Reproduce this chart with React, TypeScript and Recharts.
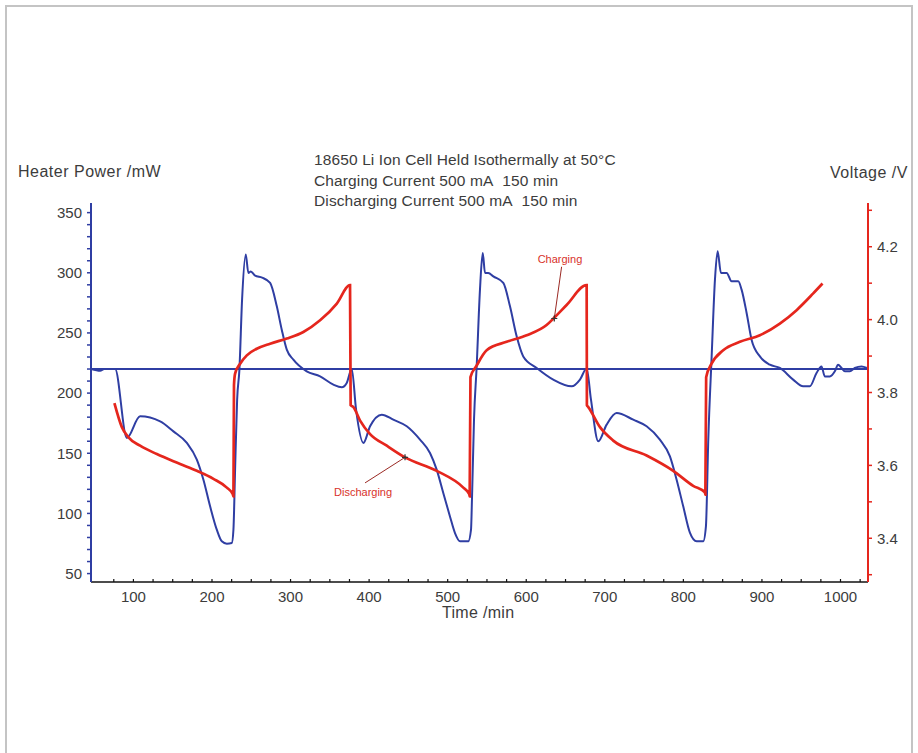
import { LineChart, Line, XAxis, YAxis, ReferenceLine, ReferenceDot } from 'recharts';

// heater power (blue, left axis)
const POWER_TIME = [
  46.2, 57.7, 62.7, 76.7, 91.6, 108.5, 134, 150.9, 168, 180.7, 189.1, 197.6, 206.1, 212.5, 218.9, 225.2,
  227.3, 229.4, 232, 234.9, 238.3, 243, 246.3, 249.4, 254.9, 263.8, 274, 282.5, 288.8, 295.2, 303.6,
  320.6, 337.6, 354.5, 365.2, 371.5, 377.9, 383.4, 392.7, 401.2, 416.1, 430.8, 447.9, 464.8, 477.5,
  486, 494.4, 502.9, 509.3, 515.7, 526.2, 529.7, 530.9, 533.5, 536.9, 541.1, 544.6, 547.5, 551.7,
  558.1, 570.8, 579.3, 587.8, 596.2, 613.3, 634.4, 657.8, 668.4, 676.9, 682.4, 691.7, 702.3, 715,
  736.2, 753.2, 770.1, 782.9, 791.4, 799.8, 808.3, 816.9, 825.3, 828.7, 831.7, 836, 840.2, 843.6,
  847.8, 855.1, 861.4, 869.8, 874.1, 880.5, 886.8, 897.4, 910.1, 922.8, 939.7, 952.4, 960.9, 969.5,
  975.8, 980, 986.4, 992.8, 996.9, 1001.3, 1005.5, 1011.9, 1018.2, 1026.8, 1033.5,
];
const POWER_MW = [
  220, 218.5, 220, 220, 162.7, 180.7, 176.5, 168.2, 158.6, 144.7, 128, 105.9, 86.5, 76.8, 74.8, 75.4,
  86.5, 136.4, 194.5, 219.5, 277.7, 315.1, 299.9, 301, 297.6, 296, 291.6, 272.1, 252.7, 236.1, 227.8,
  218.1, 213.9, 207, 204.8, 208.4, 220, 186.2, 158.6, 172.4, 182.1, 177.9, 172.4, 161.3, 150.2,
  136.4, 117, 97.5, 83.7, 76.8, 76.8, 86.5, 111.4, 177.9, 222.2, 286, 316.5, 299.9, 299.9,
  297, 291.6, 272.1, 247.2, 230.5, 220.9, 211.2, 205.6, 211.2, 220.5, 194.5, 159.9, 173.8, 183.5,
  177.9, 172.4, 161.3, 147.4, 128, 105.9, 84, 76.8, 76.8, 89.2, 161.3, 230.5, 294.3, 317.8,
  299.9, 299.9, 292.9, 292.9, 286, 266.6, 244.4, 230.5, 223.6, 220.9, 211.2, 205.6, 205.6, 216.7,
  222.2, 213.9, 213.9, 218.1, 223.6, 220.9, 218.1, 218.1, 220.9, 222.2, 220.9,
];

// cell voltage (red, right axis)
const VOLTAGE_TIME = [
  75.8, 85.3, 93.7, 108.5, 129.8, 159.4, 180.7, 201.8, 218.9, 226.5, 227.3, 228, 229.4, 235.8, 244.3,
  257, 274, 295.2, 316.3, 337.6, 358.9, 375.7, 376.5, 380, 388.5, 401.2, 422.5, 445.7, 486, 519.9,
  527.5, 528, 529, 536.9, 549.6, 575, 600.5, 625.9, 636.5, 651.4, 676.9, 677.2, 679, 693.9, 710.7,
  753.2, 787.1, 812.5, 827.4, 828, 829, 835.9, 850.7, 871.9, 897.4, 922.8, 944.1, 965.3, 977.1,
];
const VOLTAGE_V = [
  3.771, 3.705, 3.677, 3.654, 3.631, 3.604, 3.585, 3.563, 3.539, 3.521, 3.515, 3.82, 3.852, 3.879, 3.902,
  3.92, 3.934, 3.948, 3.966, 3.998, 4.044, 4.095, 3.765, 3.76, 3.723, 3.686, 3.654, 3.622, 3.585, 3.539,
  3.521, 3.515, 3.842, 3.874, 3.916, 3.939, 3.957, 3.985, 4.007, 4.04, 4.095, 3.765, 3.76, 3.705, 3.668,
  3.627, 3.585, 3.544, 3.526, 3.52, 3.842, 3.879, 3.916, 3.939, 3.957, 3.989, 4.026, 4.072, 4.099,
];

const TIME_TICKS = [
  75, 100, 125, 150, 175, 200, 225, 250, 275, 300, 325, 350, 375, 400, 425, 450, 475, 500, 525, 550,
  575, 600, 625, 650, 675, 700, 725, 750, 775, 800, 825, 850, 875, 900, 925, 950, 975, 1000, 1025,
];
const POWER_TICKS = [
  50, 60, 70, 80, 90, 100, 110, 120, 130, 140, 150, 160, 170, 180, 190, 200, 210, 220, 230, 240,
  250, 260, 270, 280, 290, 300, 310, 320, 330, 340, 350,
];
const VOLTAGE_TICKS = [3.3, 3.4, 3.5, 3.6, 3.7, 3.8, 3.9, 4.0, 4.1, 4.2, 4.3];
const VOLTAGE_LABELS = [3.4, 3.6, 3.8, 4.0, 4.2];

const BASELINE_MW = 220;

const BLUE = '#2f3ea3';
const RED = '#e5261d';
const TEXT = '#3c3c3c';
const FONT = '"Liberation Sans", Arial, sans-serif';

const powerData = POWER_TIME.map((t, i) => ({ t, y: POWER_MW[i] }));
const voltageData = VOLTAGE_TIME.map((t, i) => ({ t, y: VOLTAGE_V[i] }));

function TimeTick({ x, y, payload }: any) {
  const major = payload.value % 100 === 0;
  return (
    <g>
      <line x1={x} x2={x} y1={y} y2={y - 3} stroke="#111" strokeWidth={1.2} />
      {major && (
        <text x={x} y={y + 20} textAnchor="middle" fontSize={15} fill={TEXT} fontFamily={FONT}>
          {payload.value}
        </text>
      )}
    </g>
  );
}

function PowerTick({ x, y, payload }: any) {
  const major = payload.value % 50 === 0;
  return (
    <g>
      <line x1={x} x2={x - 4} y1={y} y2={y} stroke={BLUE} strokeWidth={1.5} />
      {major && (
        <text x={x - 9} y={y + 5.3} textAnchor="end" fontSize={15} fill={TEXT} fontFamily={FONT}>
          {payload.value}
        </text>
      )}
    </g>
  );
}

function VoltageTick({ x, y, payload }: any) {
  const major = VOLTAGE_LABELS.some((v) => Math.abs(v - payload.value) < 1e-6);
  return (
    <g>
      <line x1={x} x2={x + 4} y1={y} y2={y} stroke={RED} strokeWidth={1.5} />
      {major && (
        <text x={x + 9} y={y + 5.3} textAnchor="start" fontSize={15} fill={TEXT} fontFamily={FONT}>
          {payload.value.toFixed(1)}
        </text>
      )}
    </g>
  );
}

const plus = (p: any) => (
  <path d={`M${p.cx - 3},${p.cy}H${p.cx + 3}M${p.cx},${p.cy - 3}V${p.cy + 3}`} stroke="#333" strokeWidth={1.2} />
);

const textStyle = {
  position: 'absolute' as const,
  fontFamily: FONT,
  color: TEXT,
  whiteSpace: 'nowrap' as const,
  lineHeight: '20px',
};

export default function App() {
  return (
    <div style={{ position: 'absolute', left: 0, top: 0, width: 918, height: 753, background: '#fff', overflow: 'hidden' }}>
      <div style={{ position: 'absolute', left: 5, top: 5, width: 904, height: 760, border: '2px solid #c4c4c4' }} />

      <LineChart width={918} height={753} margin={{ top: 203, right: 0, bottom: 141, left: 0 }}>
        <XAxis
          dataKey="t"
          type="number"
          domain={[46, 1035]}
          allowDataOverflow
          ticks={TIME_TICKS}
          interval={0}
          tickSize={0}
          tickMargin={0}
          tickLine={false}
          tick={<TimeTick />}
          axisLine={{ stroke: '#111', strokeWidth: 1.5 }}
          height={30}
        />
        <YAxis
          yAxisId="left"
          type="number"
          domain={[43, 358]}
          allowDataOverflow
          ticks={POWER_TICKS}
          interval={0}
          tickSize={0}
          tickMargin={0}
          tickLine={false}
          tick={<PowerTick />}
          axisLine={{ stroke: BLUE, strokeWidth: 2 }}
          width={91}
        />
        <YAxis
          yAxisId="right"
          orientation="right"
          type="number"
          domain={[3.28, 4.32]}
          allowDataOverflow
          ticks={VOLTAGE_TICKS}
          interval={0}
          tickSize={0}
          tickMargin={0}
          tickLine={false}
          tick={<VoltageTick />}
          axisLine={{ stroke: RED, strokeWidth: 2 }}
          width={50}
        />
        <ReferenceLine yAxisId="left" y={BASELINE_MW} stroke={BLUE} strokeWidth={2} />
        <Line
          yAxisId="left"
          data={powerData}
          dataKey="y"
          type="monotone"
          stroke={BLUE}
          strokeWidth={2}
          dot={false}
          isAnimationActive={false}
        />
        <Line
          yAxisId="right"
          data={voltageData}
          dataKey="y"
          type="monotone"
          stroke={RED}
          strokeWidth={2.7}
          dot={false}
          isAnimationActive={false}
        />
        {/* annotations */}
        <ReferenceLine
          yAxisId="right"
          segment={[{ x: 645, y: 4.145 }, { x: 635.7, y: 4.003 }]}
          stroke="#9b2a24"
          strokeWidth={1}
        />
        <ReferenceLine
          yAxisId="right"
          segment={[{ x: 394.8, y: 3.552 }, { x: 445.7, y: 3.622 }]}
          stroke="#9b2a24"
          strokeWidth={1}
        />
        <ReferenceDot yAxisId="right" x={635.7} y={4.003} shape={plus} />
        <ReferenceDot yAxisId="right" x={445.7} y={3.622} shape={plus} />
        <ReferenceDot
          yAxisId="right"
          x={642.9}
          y={4.166}
          shape={(p: any) => (
            <text x={p.cx} y={p.cy + 4} textAnchor="middle" fontSize={11} fill="#d8322a" fontFamily={FONT}>
              Charging
            </text>
          )}
        />
        <ReferenceDot
          yAxisId="right"
          x={392.3}
          y={3.528}
          shape={(p: any) => (
            <text x={p.cx} y={p.cy + 4} textAnchor="middle" fontSize={11} fill="#d8322a" fontFamily={FONT}>
              Discharging
            </text>
          )}
        />
      </LineChart>

      <div style={{ ...textStyle, left: 314, top: 150, fontSize: 15.5, lineHeight: '20.5px', letterSpacing: 0.12 }}>
        <div>18650 Li Ion Cell Held Isothermally at 50°C</div>
        <div>Charging Current 500 mA&nbsp; 150 min</div>
        <div>Discharging Current 500 mA&nbsp; 150 min</div>
      </div>
      <div style={{ ...textStyle, left: 18, top: 162, fontSize: 16, letterSpacing: 0.5 }}>Heater Power /mW</div>
      <div style={{ ...textStyle, left: 830, top: 163, fontSize: 16, letterSpacing: 0.5 }}>Voltage /V</div>
      <div style={{ ...textStyle, left: 442, top: 603, fontSize: 16, letterSpacing: 0.3 }}>Time /min</div>
    </div>
  );
}
